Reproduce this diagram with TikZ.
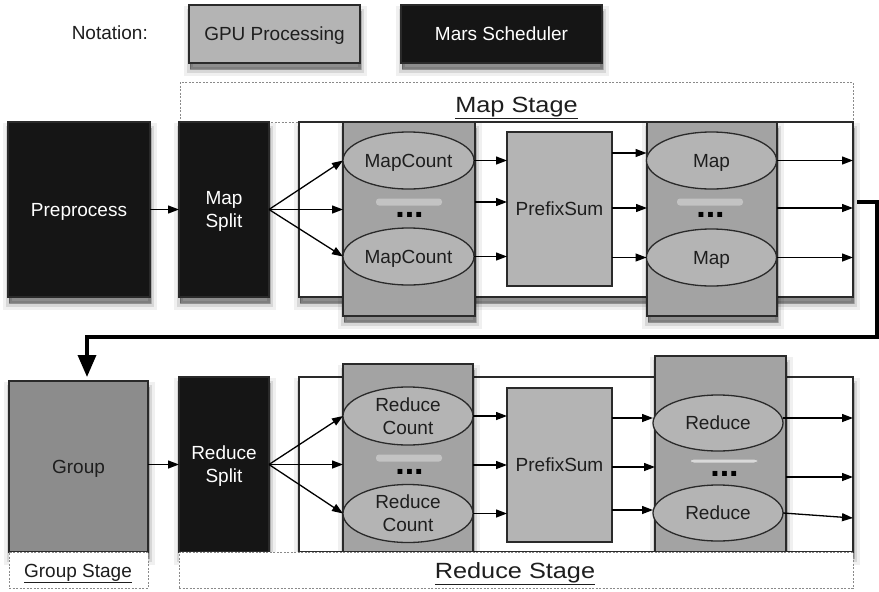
\documentclass[tikz,border=0pt]{standalone}
\usepackage{fontspec}
\usepackage{graphicx}
\setmainfont{Liberation Sans}
\usetikzlibrary{shapes.geometric,arrows.meta,calc}
\definecolor{blk}{HTML}{151515}
\definecolor{lgray}{HTML}{B4B4B4}
\definecolor{cgray}{HTML}{A3A3A3}
\definecolor{ggray}{HTML}{8C8C8C}
\definecolor{edge}{HTML}{2A2A2A}
\definecolor{dashc}{HTML}{8A8A8A}
\definecolor{txt}{HTML}{1E1E1E}
\begin{document}
\begin{tikzpicture}[x=1pt,y=-1pt,
  font=\fontsize{19}{23}\selectfont,
  base/.style={rectangle, inner sep=0pt, outer sep=0pt, draw=edge, line width=1.3pt, text depth=0pt},
  shad/.style={
    preaction={draw=black, line width=12pt, draw opacity=0.06, fill=black, fill opacity=0.06, transform canvas={xshift=1pt,yshift=-7pt}},
    preaction={draw=black, line width=6pt, draw opacity=0.1, fill=black, fill opacity=0.1, transform canvas={xshift=1pt,yshift=-7pt}},
    preaction={draw=black, line width=1pt, draw opacity=0.2, fill=black, fill opacity=0.3, transform canvas={xshift=1pt,yshift=-6pt}}},
  sched/.style={base, shad, fill=blk, text=white, align=center},
  gpu/.style={base, fill=lgray, text=txt, align=center},
  col/.style={base, shad, fill=cgray},
  panel/.style={base, shad, fill=white},
  oval/.style={ellipse, inner sep=0pt, outer sep=0pt, draw=edge, line width=1.3pt, fill=lgray, text=txt, align=center, text depth=0pt},
  stagebox/.style={rectangle, inner sep=0pt, outer sep=0pt, draw=dashc, line width=0.8pt, dash pattern=on 2pt off 1.5pt, fill=white},
  stagelbl/.style={font=\fontsize{22}{26}\selectfont, anchor=base, inner sep=0pt, text=txt},
  sepbar/.style={rectangle, rounded corners=3pt, fill=lgray!80!white, inner sep=0pt, minimum width=66, minimum height=7},
  dots/.style={font=\fontsize{34}{34}\selectfont\bfseries, anchor=base, inner sep=0pt, text=black},
  arr/.style={line width=1.3pt, draw=black, -{Triangle[length=11pt,width=8pt]}},
  bigarr/.style={line width=3.5pt, draw=black, -{Triangle[length=22pt,width=18pt]}}
]
\useasboundingbox (0,0) rectangle (879,592);
\fill[white] (0,0) rectangle (879,592);

% notation
\node[anchor=base east, inner sep=0pt, text=txt] (notation) at (148,39) {Notation:};
\node[gpu, shad, minimum width=171, minimum height=58] (gpu) at (274.5,34) {GPU Processing};
\node[sched, minimum width=201, minimum height=58] (mars) at (501.5,34) {Mars Scheduler};

% map stage
\node[stagebox, minimum width=673, minimum height=40] (mapstage) at (516.5,102) {};
\node[stagelbl] (maplbl) at (516.5,112) {\scalebox{1.15}[1]{\underline{Map Stage}}};

\node[sched, minimum width=142, minimum height=175] (pre) at (79,209.5) {Preprocess};
\node[sched, minimum width=90, minimum height=175] (msplit) at (224,209.5) {Map\\Split};
\node[panel, minimum width=554, minimum height=175] (mpanel) at (576,209.5) {};
\node[col, minimum width=132, minimum height=194] (mccol) at (409,219) {};
\node[col, minimum width=130, minimum height=194] (mcol) at (712,219) {};
\node[gpu, minimum width=105, minimum height=154] (ps1) at (559.5,209) {PrefixSum};
\node[oval, minimum width=131, minimum height=57] (mc1) at (408.5,160.5) {MapCount};
\node[oval, minimum width=131, minimum height=57] (mc2) at (408.5,256.5) {MapCount};
\node[oval, minimum width=130, minimum height=57] (m1) at (711.5,160.5) {Map};
\node[oval, minimum width=130, minimum height=57] (m2) at (711.5,257.5) {Map};
\node[sepbar] (mcsep) at (409,202) {};
\node[dots] (mcdots) at (409.5,217) {...};
\node[sepbar] (msep) at (710,202) {};
\node[dots] (mdots) at (710.5,217) {...};

% group / reduce
\node[base, shad, fill=ggray, text=txt, minimum width=139, minimum height=171] (group) at (78.5,466.5) {Group};
\node[sched, minimum width=90, minimum height=175] (rsplit) at (224,464.5) {Reduce\\Split};
\node[panel, minimum width=554, minimum height=175] (rpanel) at (576,464.5) {};
\node[col, minimum width=130, minimum height=188] (rccol) at (408,458) {};
\node[col, minimum width=131, minimum height=196] (rcol) at (720.5,454) {};
\node[gpu, minimum width=105, minimum height=154] (ps2) at (559.5,465) {PrefixSum};
\node[oval, minimum width=130, minimum height=58] (rc1) at (408,416) {Reduce\\Count};
\node[oval, minimum width=130, minimum height=58] (rc2) at (408,513.5) {Reduce\\Count};
\node[oval, minimum width=130, minimum height=56] (r1) at (718,423) {Reduce};
\node[oval, minimum width=130, minimum height=56] (r2) at (718,513) {Reduce};
\node[sepbar] (rcsep) at (409,458) {};
\node[dots] (rcdots) at (409.5,474) {...};
\node[sepbar, minimum height=3, fill=lgray!50!white] (rsep) at (724,461) {};
\node[dots] (rdots) at (724.5,476) {...};

% stage boxes bottom
\node[stagebox, minimum width=139, minimum height=36] (groupstage) at (78.5,570) {};
\node[stagelbl, font=\fontsize{19}{22}\selectfont] (grouplbl) at (78,577) {\underline{Group Stage}};
\node[stagebox, minimum width=674, minimum height=36] (redstage) at (516,570) {};
\node[stagelbl] (redlbl) at (515,578) {\scalebox{1.15}[1]{\underline{Reduce Stage}}};

% helper levels
\coordinate (yA) at (0,153);
\coordinate (yB) at (0,208);
\coordinate (yD) at (0,418);
\coordinate (yE) at (0,467);
\coordinate (yF) at (0,510);
\coordinate (yG) at (0,477);
\coordinate (yH) at (0,518);
\coordinate (turnR) at (877,337);

% map arrows
\draw[arr] (pre) -- (msplit);
\draw[arr] (msplit.east) -- (mc1.west);
\draw[arr] (msplit.east) -- (msplit.east -| mccol.west);
\draw[arr] (msplit.east) -- (mc2.west);
\draw[arr] (mc1.east) -- (mc1.east -| ps1.west);
\draw[arr] (mcsep -| mccol.east) -- (mcsep -| ps1.west);
\draw[arr] (mc2.east) -- (mc2.east -| ps1.west);
\draw[arr] (ps1.east |- yA) -- (m1.west |- yA);
\draw[arr] (ps1.east |- yB) -- (mcol.west |- yB);
\draw[arr] (ps1.east |- m2.west) -- (m2.west);
\draw[arr] (m1.east) -- (m1.east -| mpanel.east);
\draw[arr] (mcol.east |- yB) -- (mpanel.east |- yB);
\draw[arr] (m2.east) -- (m2.east -| mpanel.east);

% link to group
\draw[bigarr] ($(mpanel.east)+(4,-7.5)$) -| (turnR) -| ($(group.north)+(8.5,-4)$);

% reduce arrows
\draw[arr] (rsplit.west -| group.east) -- (rsplit.west);
\draw[arr] (rsplit.east) -- (rc1.west);
\draw[arr] (rsplit.east) -- (rsplit.east -| rccol.west);
\draw[arr] (rsplit.east) -- (rc2.west);
\draw[arr] (rc1.east) -- (rc1.east -| ps2.west);
\draw[arr] (ps2.west -| rccol.east) -- (ps2.west);
\draw[arr] (rc2.east) -- (rc2.east -| ps2.west);
\draw[arr] (ps2.east |- yD) -- (r1.west |- yD);
\draw[arr] (ps2.east |- yE) -- (rcol.west |- yE);
\draw[arr] (ps2.east |- yF) -- (r2.west |- yF);
\draw[arr] (r1.east |- yD) -- (rpanel.east |- yD);
\draw[arr] (rcol.east |- yG) -- (rpanel.east |- yG);
\draw[arr] (r2.east) -- (rpanel.east |- yH);
\end{tikzpicture}
\end{document}
